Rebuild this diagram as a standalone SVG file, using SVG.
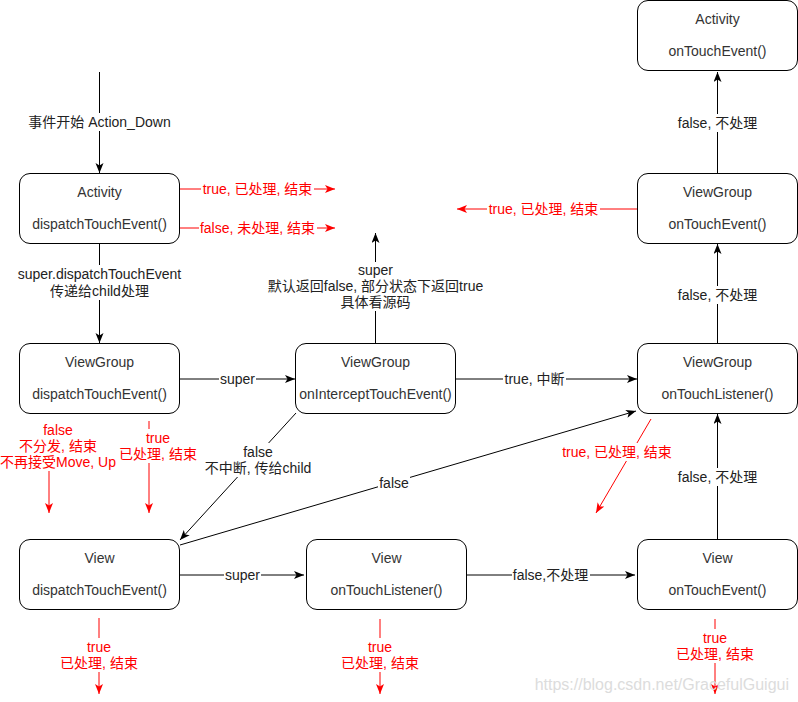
<svg xmlns="http://www.w3.org/2000/svg" width="798" height="702" viewBox="0 0 798 702">
<style>
.box{fill:#fff;stroke:#000;stroke-width:1}
.nt{font-family:"Liberation Sans","Noto Sans CJK SC",sans-serif;font-size:14px;fill:#333;text-anchor:middle;dominant-baseline:central}
.lb{font-family:"Liberation Sans","Noto Sans CJK SC",sans-serif;font-size:14px;fill:#222;text-anchor:middle;dominant-baseline:central}
.lr{font-family:"Liberation Sans","Noto Sans CJK SC",sans-serif;font-size:14px;fill:#ff0000;text-anchor:middle;dominant-baseline:central}
.bg{fill:#fff}
.k{stroke:#000;stroke-width:1;fill:none;marker-end:url(#ak)}
.r{stroke:#ff0000;stroke-width:1;fill:none;marker-end:url(#ar)}
</style>
<defs>
<marker id="ak" markerUnits="userSpaceOnUse" markerWidth="11" markerHeight="9" refX="10" refY="4" orient="auto" viewBox="0 0 11 9">
<path d="M0,0 L10,4 L0,8 L2.5,4 z" fill="#000"/>
</marker>
<marker id="ar" markerUnits="userSpaceOnUse" markerWidth="11" markerHeight="9" refX="10" refY="4" orient="auto" viewBox="0 0 11 9">
<path d="M0,0 L10,4 L0,8 L2.5,4 z" fill="#ff0000"/>
</marker>
</defs>
<rect width="798" height="702" fill="#fff"/>

<g id="connectors">
<path class="k" d="M99.5,72 L99.5,173"/>
<path class="k" d="M99.5,243 L99.5,343"/>
<path class="r" d="M180,189 L335,189"/>
<path class="r" d="M180,228 L335,228"/>
<path class="k" d="M180,379 L295,379"/>
<path class="k" d="M375.5,343 L375.5,233"/>
<path class="k" d="M455.5,379 L637,379"/>
<path class="k" d="M296,413 L180,540"/>
<path class="k" d="M180,545 L636,411"/>
<path class="r" d="M49,430 L49,513"/>
<path class="r" d="M149,421 L149,513"/>
<path class="k" d="M717.5,343 L717.5,244"/>
<path class="k" d="M717.5,173 L717.5,72"/>
<path class="r" d="M637,209 L457,209"/>
<path class="k" d="M717.5,539 L717.5,414"/>
<path class="r" d="M651,419 L596,513"/>
<path class="k" d="M180,575 L304,575"/>
<path class="k" d="M466.5,575 L635,575"/>
<path class="r" d="M99,618 L99,694"/>
<path class="r" d="M380,619 L380,694"/>
<path class="r" d="M715,619 L715,694"/>
</g>

<g id="labels">
<rect class="bg" x="27" y="113" width="145" height="18"/>
<rect class="bg" x="17" y="265" width="166" height="35"/>
<rect class="bg" x="201" y="180" width="113" height="18"/>
<rect class="bg" x="199" y="219" width="118" height="18"/>
<rect class="bg" x="219" y="370" width="37" height="18"/>
<rect class="bg" x="266" y="262" width="219" height="49"/>
<rect class="bg" x="503" y="370" width="63" height="18"/>
<rect class="bg" x="204" y="443" width="110" height="34"/>
<rect class="bg" x="378" y="474" width="32" height="18"/>
<rect class="bg" x="0" y="421" width="117" height="50"/>
<rect class="bg" x="119" y="429" width="79" height="34"/>
<rect class="bg" x="677" y="286" width="82" height="18"/>
<rect class="bg" x="677" y="114" width="82" height="18"/>
<rect class="bg" x="487" y="200" width="113" height="18"/>
<rect class="bg" x="677" y="468" width="82" height="18"/>
<rect class="bg" x="561" y="443" width="113" height="18"/>
<rect class="bg" x="224" y="566" width="37" height="18"/>
<rect class="bg" x="512" y="566" width="78" height="18"/>
<rect class="bg" x="59" y="638" width="80" height="34"/>
<rect class="bg" x="340" y="638" width="80" height="34"/>
<rect class="bg" x="675" y="629" width="80" height="34"/>

<text class="lb" x="99.5" y="122">事件开始 Action_Down</text>
<text class="lb" x="99.5" y="274">super.dispatchTouchEvent</text>
<text class="lb" x="99.5" y="291">传递给child处理</text>
<text class="lr" x="257.5" y="189">true, 已处理, 结束</text>
<text class="lr" x="257.5" y="228">false, 未处理, 结束</text>
<text class="lb" x="237.5" y="379">super</text>
<text class="lb" x="375.5" y="270">super</text>
<text class="lb" x="375.5" y="286">默认返回false, 部分状态下返回true</text>
<text class="lb" x="375.5" y="302">具体看源码</text>
<text class="lb" x="534.5" y="379">true, 中断</text>
<text class="lb" x="258" y="452">false</text>
<text class="lb" x="258" y="468">不中断, 传给child</text>
<text class="lb" x="394" y="483">false</text>
<text class="lr" x="58" y="430">false</text>
<text class="lr" x="58" y="446">不分发, 结束</text>
<text class="lr" x="58" y="462">不再接受Move, Up</text>
<text class="lr" x="158" y="438">true</text>
<text class="lr" x="158" y="454">已处理, 结束</text>
<text class="lb" x="717.5" y="295">false, 不处理</text>
<text class="lb" x="717.5" y="123">false, 不处理</text>
<text class="lr" x="543.5" y="209">true, 已处理, 结束</text>
<text class="lb" x="717.5" y="477">false, 不处理</text>
<text class="lr" x="617" y="452">true, 已处理, 结束</text>
<text class="lb" x="242.5" y="575">super</text>
<text class="lb" x="550.5" y="575">false,不处理</text>
<text class="lr" x="99" y="647">true</text>
<text class="lr" x="99" y="663">已处理, 结束</text>
<text class="lr" x="380" y="647">true</text>
<text class="lr" x="380" y="663">已处理, 结束</text>
<text class="lr" x="715" y="638">true</text>
<text class="lr" x="715" y="654">已处理, 结束</text>
</g>

<g id="activity-onTouchEvent">
<rect class="box" x="637.5" y="0.5" width="160" height="70" rx="10.5"/>
<text class="nt" x="717.5" y="19">Activity</text>
<text class="nt" x="717.5" y="51">onTouchEvent()</text>
</g>
<g id="activity-dispatch">
<rect class="box" x="19.5" y="173.5" width="160" height="70" rx="10.5"/>
<text class="nt" x="99.5" y="192">Activity</text>
<text class="nt" x="99.5" y="224">dispatchTouchEvent()</text>
</g>
<g id="viewgroup-onTouchEvent">
<rect class="box" x="637.5" y="173.5" width="160" height="70" rx="10.5"/>
<text class="nt" x="717.5" y="192">ViewGroup</text>
<text class="nt" x="717.5" y="224">onTouchEvent()</text>
</g>
<g id="viewgroup-dispatch">
<rect class="box" x="19.5" y="343.5" width="160" height="70" rx="10.5"/>
<text class="nt" x="99.5" y="362">ViewGroup</text>
<text class="nt" x="99.5" y="394">dispatchTouchEvent()</text>
</g>
<g id="viewgroup-intercept">
<rect class="box" x="295.5" y="343.5" width="160" height="70" rx="10.5"/>
<text class="nt" x="375.5" y="362">ViewGroup</text>
<text class="nt" x="375.5" y="394">onInterceptTouchEvent()</text>
</g>
<g id="viewgroup-onTouchListener">
<rect class="box" x="637.5" y="343.5" width="160" height="70" rx="10.5"/>
<text class="nt" x="717.5" y="362">ViewGroup</text>
<text class="nt" x="717.5" y="394">onTouchListener()</text>
</g>
<g id="view-dispatch">
<rect class="box" x="19.5" y="539.5" width="160" height="70" rx="10.5"/>
<text class="nt" x="99.5" y="558">View</text>
<text class="nt" x="99.5" y="590">dispatchTouchEvent()</text>
</g>
<g id="view-onTouchListener">
<rect class="box" x="306.5" y="539.5" width="160" height="70" rx="10.5"/>
<text class="nt" x="386.5" y="558">View</text>
<text class="nt" x="386.5" y="590">onTouchListener()</text>
</g>
<g id="view-onTouchEvent">
<rect class="box" x="637.5" y="539.5" width="160" height="70" rx="10.5"/>
<text class="nt" x="717.5" y="558">View</text>
<text class="nt" x="717.5" y="590">onTouchEvent()</text>
</g>

<text x="789" y="690" font-family="'Liberation Sans',sans-serif" font-size="16" fill="#dcdcdc" text-anchor="end">https://blog.csdn.net/GracefulGuigui</text>
</svg>
